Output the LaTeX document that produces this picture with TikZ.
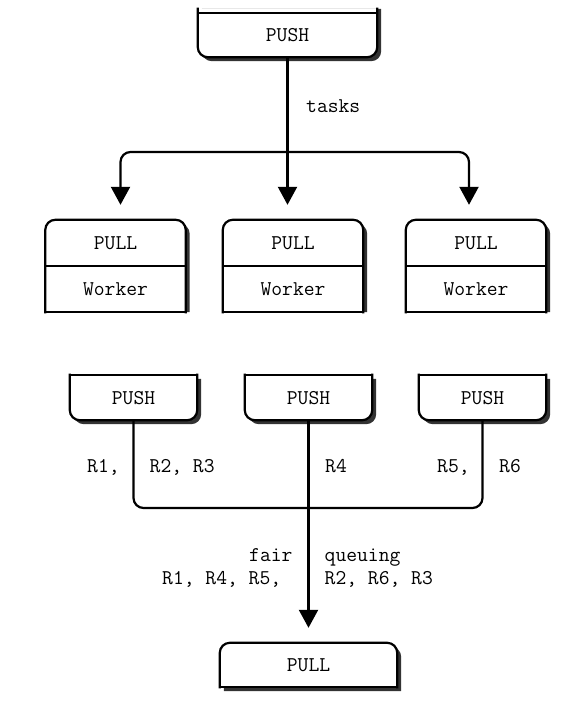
\documentclass[tikz,border=0pt]{standalone}
\usepackage{fontspec}
\usetikzlibrary{arrows.meta, backgrounds}

\tikzset{
    box/.style={inner sep=0pt, text height=13pt, text depth=0pt, font=\fontsize{21}{25}\selectfont\ttfamily\addfontfeatures{FakeBold=0.6}},
    lab/.style={inner sep=0pt, anchor=base west, font=\fontsize{21}{25}\selectfont\ttfamily\addfontfeatures{FakeBold=0.6}},
    drop/.style={fill=black!80, rounded corners=10pt},
    face/.style={fill=white, rounded corners=10pt},
    rim/.style={line width=2.2pt, rounded corners=10pt, line cap=rect},
    link/.style={line width=2.2pt, rounded corners=10pt},
    arr/.style={-{Triangle[length=18pt,width=19pt]}, shorten >=15pt},
}

\begin{document}
\begin{tikzpicture}[x=1pt, y=-1pt]
        \useasboundingbox (0,0) rectangle (581,712);

        % PUSH at the top
        \node[box, minimum width=179pt, minimum height=44pt] (T) at (287.5,35) {PUSH};

        % Workers
        \foreach \i/\x in {1/115.5, 2/293, 3/476} {
            \node[box, minimum width=140pt, minimum height=46pt] (P\i) at (\x,243) {PULL};
            \node[box, minimum width=140pt, minimum height=46pt] (W\i) at (\x,289) {Worker};
        }

        % PUSH row below
        \foreach \i/\x in {1/133.5, 2/308.5, 3/482.5} {
            \node[box, minimum width=127pt, minimum height=45pt] (S\i) at (\x,397.5) {PUSH};
        }

        % PULL at the bottom
        \node[box, minimum width=177pt, minimum height=44pt] (B) at (308.5,665) {PULL};

        % Box outlines and shadows
        \begin{scope}[on background layer]
            \fill[drop] ([shift={(4,-4)}]T.north west) -- ([shift={(4,4)}]T.south west) -- ([shift={(4,4)}]T.south east) -- ([shift={(4,-4)}]T.north east);
            \fill[face] ([yshift=4pt]T.north west) -- (T.south west) -- (T.south east) -- ([yshift=4pt]T.north east);
            \draw[rim] ([yshift=4pt]T.north west) -- (T.south west) -- (T.south east) -- ([yshift=4pt]T.north east);
            \draw[rim] (T.north west) -- (T.north east);

            \foreach \i in {1,2,3} {
                \fill[drop] ([xshift=4pt]W\i.south west) -- ([shift={(4,4)}]P\i.north west) -- ([shift={(4,4)}]P\i.north east) -- ([xshift=4pt]W\i.south east);
                \fill[face] (W\i.south west) -- (P\i.north west) -- (P\i.north east) -- (W\i.south east);
                \draw[rim] (W\i.south west) -- (P\i.north west) -- (P\i.north east) -- (W\i.south east);
                \draw[rim] (W\i.south west) -- (W\i.south east) (P\i.south west) -- (P\i.south east);

                \fill[drop] ([shift={(4,4)}]S\i.north west) -- ([shift={(4,4)}]S\i.south west) -- ([shift={(4,4)}]S\i.south east) -- ([shift={(4,4)}]S\i.north east);
                \fill[face] (S\i.north west) -- (S\i.south west) -- (S\i.south east) -- (S\i.north east);
                \draw[rim] (S\i.north west) -- (S\i.south west) -- (S\i.south east) -- (S\i.north east);
                \draw[rim] (S\i.north west) -- (S\i.north east);
            }

            \fill[drop] ([shift={(4,4)}]B.south west) -- ([shift={(4,4)}]B.north west) -- ([shift={(4,4)}]B.north east) -- ([shift={(4,4)}]B.south east);
            \fill[face] (B.south west) -- (B.north west) -- (B.north east) -- (B.south east);
            \draw[rim] (B.south west) -- (B.north west) -- (B.north east) -- (B.south east);
            \draw[rim] (B.south west) -- (B.south east);
        \end{scope}

        % Fan out
        \coordinate (J) at (287.5,152);
        \draw[link, arr] (T.south) -- (T.south |- P2.north);
        \draw[link, arr] (J) -| ([xshift=5pt]P1.north);
        \draw[link, arr] (J) -| ([xshift=-7pt]P3.north);
        \node[lab] (tasks) at (306,112) {tasks};

        % Fan in
        \coordinate (M) at (308.5,508);
        \draw[link] (S1.south) |- (M) -| (S3.south);
        \draw[link, arr] (S2.south) -- (B.north);

        % Labels
        \node[lab] (r1) at (87,472) {R1,};
        \node[lab] (r23) at (149.5,472) {R2, R3};
        \node[lab] (r4) at (325,472) {R4};
        \node[lab] (r5) at (437,472) {R5,};
        \node[lab] (r6) at (499,472) {R6};
        \node[lab] (fair) at (249,561) {fair};
        \node[lab] (left) at (162,584) {R1, R4, R5,};
        \node[lab] (queue) at (324.5,561) {queuing};
        \node[lab] (right) at (324.5,584) {R2, R6, R3};
    \end{tikzpicture}
\end{document}
